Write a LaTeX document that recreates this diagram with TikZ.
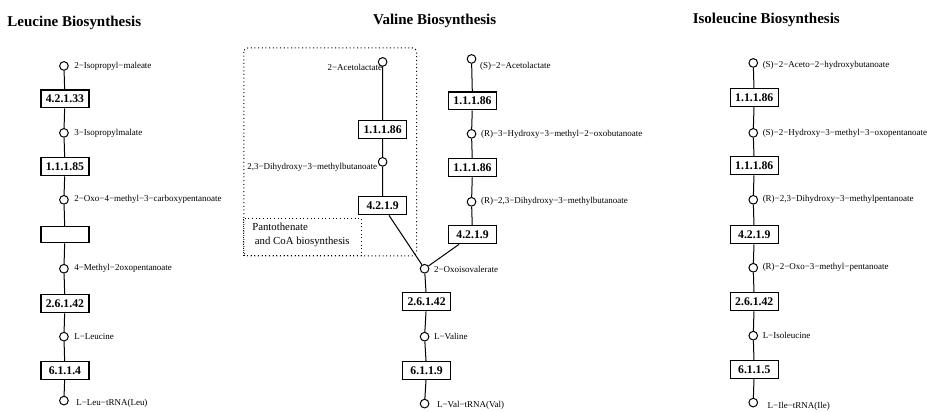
\documentclass[tikz,border=0pt]{standalone}
\usepackage{fontspec}
\setmainfont{Liberation Serif}
\usetikzlibrary{positioning}

\tikzset{every picture/.style={line width=0.75pt}}
\tikzset{
  cpd/.style={circle,draw,fill=white,minimum size=6.5pt,inner sep=0pt},
  ecbox/.style={draw,line width=0.9pt,fill=white,minimum width=36pt,minimum height=13.5pt,inner sep=1.5pt,font=\fontsize{8.8}{10}\selectfont\bfseries},
  cpdname/.style={inner sep=0pt,font=\fontsize{6.75}{8}\selectfont},
  pwtitle/.style={inner sep=0pt,anchor=west,font=\fontsize{11.25}{13}\selectfont\bfseries},
}

\begin{document}
\begin{tikzpicture}[x=0.75pt,y=0.75pt,yscale=-1,xscale=1]
%set diagram left start at 0, and has height of 412
\path (0,0) rectangle (927,412);

% Text Node
\node[pwtitle] (ttlleu) at (7,23) {Leucine Biosynthesis};
% Text Node
\node[pwtitle] (ttlval) at (373,21) {Valine Biosynthesis};
% Text Node
\node[pwtitle] (ttlile) at (693,20) {Isoleucine Biosynthesis};

%Shape: Rectangle [dotted]
\draw[dotted,rounded corners=3pt] (244,48) rectangle (417,256);
%Shape: Rectangle [dotted]
\draw[dotted] (244,219) rectangle (362,256);
% Text Node
\node[anchor=north west,align=left,inner sep=0pt,font=\fontsize{8.1}{10.5}\selectfont] (pantt) at (252,223) {Pantothenate\\ \ and CoA biosynthesis};

%Leucine
\node[cpd] (leu0) at (64,66) {};
\node[ecbox] (leu1ec) at (65,99) {4.2.1.33};
\node[cpd] (leu1) at (64,133) {};
\node[ecbox] (leu2ec) at (65,167) {1.1.1.85};
\node[cpd] (leu2) at (64,200) {};
\node[ecbox,minimum height=12pt] (leu3ec) at (65,235) {};
\node[cpd] (leu3) at (64,269) {};
\node[ecbox] (leu4ec) at (65,304) {2.6.1.42};
\node[cpd] (leu4) at (64,337) {};
\node[ecbox] (leu5ec) at (65,371) {6.1.1.4};
\node[cpd] (leu5) at (64,401) {};
\draw (leu0) -- (leu1ec) -- (leu1) -- (leu2ec) -- (leu2) -- (leu3ec) -- (leu3) -- (leu4ec) -- (leu4) -- (leu5ec) -- (leu5);
% Text Node
\node[cpdname,anchor=west] (leu0t) at (74,66) {2−Isopropyl−maleate};
\node[cpdname,anchor=west] (leu1t) at (74,133) {3−Isopropylmalate};
\node[cpdname,anchor=west] (leu2t) at (74,200) {2−Oxo−4−methyl−3−carboxypentanoate};
\node[cpdname,anchor=west] (leu3t) at (74,269) {4−Methyl−2oxopentanoate};
\node[cpdname,anchor=west] (leu4t) at (74,337) {L−Leucine};
\node[cpdname,anchor=west] (leu5t) at (76,404) {L−Leu−tRNA(Leu)};

%Valine, inner branch
\node[cpd] (pan0) at (383,62) {};
\node[ecbox] (pan1ec) at (383,129.5) {1.1.1.86};
\node[cpd] (pan1) at (383,162) {};
\node[ecbox] (pan2ec) at (383,206) {4.2.1.9};
% Text Node
\node[cpdname,anchor=east] (pan0t) at (383,67) {2−Acetolactate};
\node[cpdname,anchor=east] (pan1t) at (378,168) {2,3−Dihydroxy−3−methylbutanoate};

%Valine
\node[cpd] (val0) at (472,59) {};
\node[ecbox] (val1ec) at (473,101) {1.1.1.86};
\node[cpd] (val1) at (472,134) {};
\node[ecbox] (val2ec) at (473,168) {1.1.1.86};
\node[cpd] (val2) at (472,202) {};
\node[ecbox] (val3ec) at (473,235) {4.2.1.9};
\node[cpd] (valx) at (425,269) {};
\node[ecbox] (val4ec) at (427,302) {2.6.1.42};
\node[cpd] (val4) at (425,337) {};
\node[ecbox] (val5ec) at (427,371) {6.1.1.9};
\node[cpd] (val5) at (425,404) {};
\draw (pan0) -- (pan1ec) -- (pan1) -- (pan2ec) -- (valx);
\draw (val0) -- (val1ec) -- (val1) -- (val2ec) -- (val2) -- (val3ec) -- (valx);
\draw (valx) -- (val4ec) -- (val4) -- (val5ec) -- (val5);
% Text Node
\node[cpdname,anchor=west] (val0t) at (480,66) {(S)−2−Acetolactate};
\node[cpdname,anchor=west] (val1t) at (481,134) {(R)−3−Hydroxy−3−methyl−2−oxobutanoate};
\node[cpdname,anchor=west] (val2t) at (481,202) {(R)−2,3−Dihydroxy−3−methylbutanoate};
\node[cpdname,anchor=west] (valxt) at (434,270) {2−Oxoisovalerate};
\node[cpdname,anchor=west] (val4t) at (434,337) {L−Valine};
\node[cpdname,anchor=west] (val5t) at (437,406) {L−Val−tRNA(Val)};

%Isoleucine
\node[cpd] (ile0) at (754,63) {};
\node[ecbox] (ile1ec) at (755,97.5) {1.1.1.86};
\node[cpd] (ile1) at (754,133) {};
\node[ecbox] (ile2ec) at (755,166) {1.1.1.86};
\node[cpd] (ile2) at (754,200) {};
\node[ecbox] (ile3ec) at (755,235) {4.2.1.9};
\node[cpd] (ile3) at (754,268) {};
\node[ecbox] (ile4ec) at (755,302) {2.6.1.42};
\node[cpd] (ile4) at (754,336) {};
\node[ecbox] (ile5ec) at (755,370) {6.1.1.5};
\node[cpd] (ile5) at (754,403) {};
\draw (ile0) -- (ile1ec) -- (ile1) -- (ile2ec) -- (ile2) -- (ile3ec) -- (ile3) -- (ile4ec) -- (ile4) -- (ile5ec) -- (ile5);
% Text Node
\node[cpdname,anchor=west] (ile0t) at (763,65) {(S)−2−Aceto−2−hydroxybutanoate};
\node[cpdname,anchor=west] (ile1t) at (763,133) {(S)−2−Hydroxy−3−methyl−3−oxopentanoate};
\node[cpdname,anchor=west] (ile2t) at (763,200) {(R)−2,3−Dihydroxy−3−methylpentanoate};
\node[cpdname,anchor=west] (ile3t) at (763,268) {(R)−2−Oxo−3−methyl−pentanoate};
\node[cpdname,anchor=west] (ile4t) at (763,336) {L−Isoleucine};
\node[cpdname,anchor=west] (ile5t) at (768,407) {L−Ile−tRNA(Ile)};

\end{tikzpicture}
\end{document}
